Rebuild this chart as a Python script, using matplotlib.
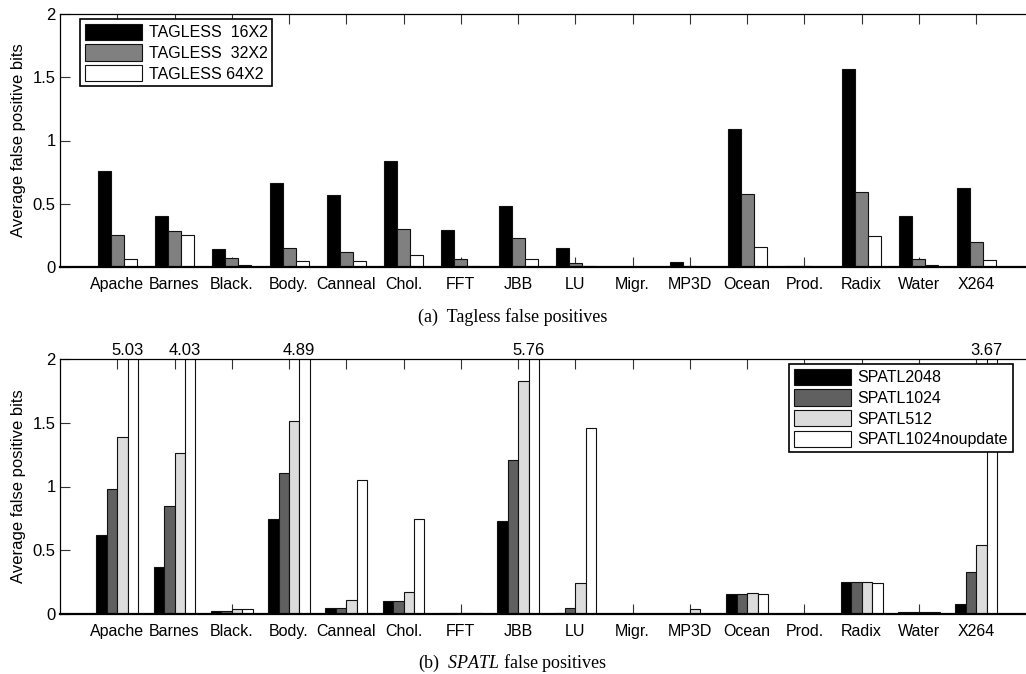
import matplotlib
matplotlib.use("Agg")
import matplotlib.pyplot as plt
import numpy as np

categories = ["Apache", "Barnes", "Black.", "Body.", "Canneal", "Chol.", "FFT", "JBB",
              "LU", "Migr.", "MP3D", "Ocean", "Prod.", "Radix", "Water", "X264"]

# (a) Tagless false positives
tagless_labels = ["TAGLESS  16X2", "TAGLESS  32X2", "TAGLESS 64X2"]
tagless_16x2 = [0.759, 0.406, 0.142, 0.661, 0.567, 0.838, 0.295, 0.485,
                0.148, 0.0, 0.040, 1.091, 0.010, 1.565, 0.403, 0.622]
tagless_32x2 = [0.250, 0.285, 0.074, 0.153, 0.121, 0.303, 0.061, 0.227,
                0.032, 0.0, 0.008, 0.577, 0.008, 0.593, 0.066, 0.195]
tagless_64x2 = [0.063, 0.253, 0.018, 0.047, 0.045, 0.095, 0.010, 0.066,
                0.008, 0.0, 0.0, 0.155, 0.0, 0.245, 0.016, 0.058]

# (b) SPATL false positives
spatl_labels = ["SPATL2048", "SPATL1024", "SPATL512", "SPATL1024noupdate"]
spatl_2048 = [0.618, 0.370, 0.021, 0.746, 0.047, 0.099, 0.010, 0.727,
              0.008, 0.0, 0.0, 0.159, 0.0, 0.248, 0.016, 0.081]
spatl_1024 = [0.978, 0.847, 0.023, 1.108, 0.047, 0.099, 0.008, 1.207,
              0.050, 0.0, 0.0, 0.159, 0.0, 0.248, 0.016, 0.326]
spatl_512 = [1.387, 1.259, 0.039, 1.510, 0.110, 0.175, 0.008, 1.825,
             0.245, 0.0, 0.037, 0.164, 0.0, 0.248, 0.013, 0.542]
spatl_1024nu = [5.03, 4.03, 0.039, 4.89, 1.053, 0.743, 0.008, 5.76,
                1.455, 0.0, 0.0, 0.156, 0.0, 0.245, 0.013, 3.67]

plt.rcParams['font.family'] = ['Liberation Sans', 'DejaVu Sans']
plt.rcParams['mathtext.fontset'] = 'custom'
plt.rcParams['mathtext.it'] = 'Liberation Serif:italic'
plt.rcParams['mathtext.rm'] = 'Liberation Serif'

W, H = 1026, 674
fig = plt.figure(figsize=(W / 100, H / 100), dpi=100)

def px_axes(left, top, right, bottom):
    return fig.add_axes([left / W, 1 - bottom / H, (right - left) / W, (bottom - top) / H])

x = np.arange(1, len(categories) + 1)

def style_axes(ax):
    ax.set_xlim(0, 16.87)
    ax.set_ylim(0, 2)
    ax.set_xticks(x)
    ax.set_xticklabels(categories, fontsize=11.5)
    ax.set_yticks([0, 0.5, 1, 1.5, 2])
    ax.set_yticklabels(["0", "0.5", "1", "1.5", "2"], fontsize=12)
    ax.tick_params(axis='both', direction='in', length=7, width=0.8, color='#333333',
                   top=True, bottom=True, left=True, right=False)
    ax.tick_params(axis='x', pad=7)
    ax.tick_params(axis='y', pad=3)
    ax.spines['right'].set_visible(False)
    ax.spines['top'].set_linewidth(0.9)
    ax.spines['left'].set_linewidth(0.9)
    ax.spines['bottom'].set_linewidth(1.6)
    ax.set_ylabel("Average false positive bits", fontsize=12, labelpad=5)

# ---- Top chart ----
ax1 = px_axes(60, 14, 1026, 267)
w1 = 0.227
top_series = [tagless_16x2, tagless_32x2, tagless_64x2]
top_colors = ['#000000', '#808080', '#ffffff']
for i, (vals, col, lab) in enumerate(zip(top_series, top_colors, tagless_labels)):
    ax1.bar(x + (i - 1) * w1, vals, width=w1, color=col, edgecolor='#111111',
            linewidth=0.8, label=lab, zorder=2)
style_axes(ax1)
leg1 = ax1.legend(loc='upper left', bbox_to_anchor=(20 / 966, 0.98), fontsize=11.5,
                  frameon=True, fancybox=False, edgecolor='black', framealpha=1,
                  handlelength=3.6, handleheight=1.2, handletextpad=0.4,
                  borderpad=0.3, labelspacing=0.25, borderaxespad=0)
leg1.get_frame().set_linewidth(1.2)
fig.text(0.5, 1 - 317 / H, "(a)  Tagless false positives", ha='center', va='center',
         fontsize=13, family=['Liberation Serif', 'DejaVu Serif'])

# ---- Bottom chart ----
ax2 = px_axes(60, 359, 1026, 614)
w2 = 0.182
bot_series = [spatl_2048, spatl_1024, spatl_512, spatl_1024nu]
bot_colors = ['#000000', '#606060', '#dcdcdc', '#ffffff']
for i, (vals, col, lab) in enumerate(zip(bot_series, bot_colors, spatl_labels)):
    ax2.bar(x + (i - 1.5) * w2, vals, width=w2, color=col, edgecolor='#111111',
            linewidth=0.8, label=lab, zorder=2)
style_axes(ax2)
for xi, v in zip(x, spatl_1024nu):
    if v > 2:
        ax2.annotate(f"{v:.2f}", xy=(xi + 1.5 * w2, 2), xytext=(-4, 1),
                     textcoords='offset points', ha='center', va='bottom', fontsize=12,
                     annotation_clip=False)
leg2 = ax2.legend(loc='upper right', bbox_to_anchor=(953 / 966, 0.98), fontsize=11.5,
                  frameon=True, fancybox=False, edgecolor='black', framealpha=1,
                  handlelength=3.6, handleheight=1.2, handletextpad=0.4,
                  borderpad=0.3, labelspacing=0.25, borderaxespad=0)
leg2.get_frame().set_linewidth(1.2)

fig.text(0.5, 1 - 663 / H, "(b)  $\\it{SPATL}$ false positives", ha='center', va='center',
         fontsize=13, family=['Liberation Serif', 'DejaVu Serif'])

fig.savefig("out.png", dpi=100)
